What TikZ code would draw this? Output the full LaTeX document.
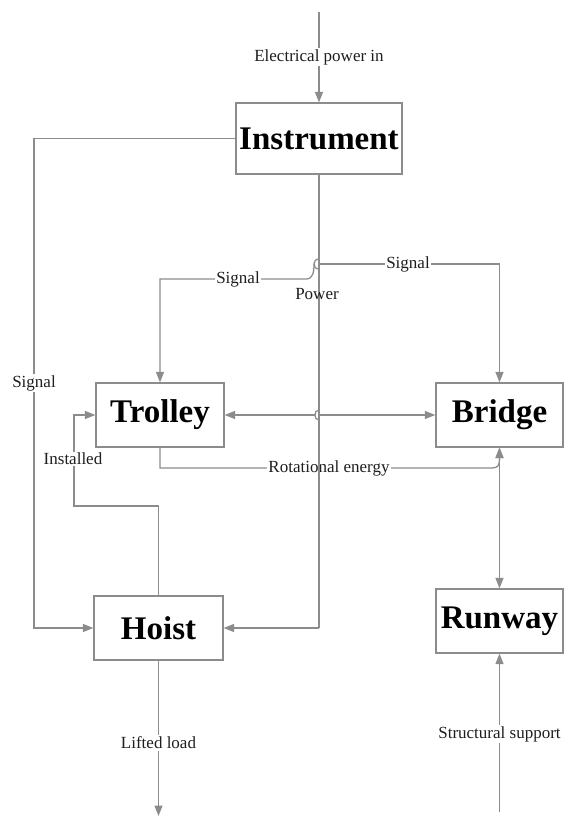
\documentclass[tikz,border=0pt]{standalone}
\usepackage{fontspec}
\setmainfont{Liberation Serif}
\usetikzlibrary{arrows.meta}
\definecolor{linegray}{RGB}{140,140,140}
\definecolor{txtdark}{RGB}{30,30,30}
\begin{document}
\begin{tikzpicture}[x=1pt,y=-1pt,
  conn/.style={draw=linegray, line width=1.3pt},
  arr/.style={conn,-{Triangle[length=10.5pt,width=8pt]}},
  darr/.style={conn,{Triangle[length=10.5pt,width=8pt]}-{Triangle[length=10.5pt,width=8pt]}},
  box/.style={draw=linegray, line width=1.3pt, fill=white, inner sep=0pt,
    font=\fontsize{33}{38}\selectfont\bfseries, text=black},
  lbl/.style={font=\fontsize{17}{20}\selectfont, text=txtdark, inner sep=1.5pt, fill=white}]
\useasboundingbox (0,0) rectangle (564,823);
\fill[white] (0,0) rectangle (564,823);

% boxes
\node[box, minimum width=166pt, minimum height=71pt] (ins) at (319,138.5) {Instrument};
\node[box, minimum width=128pt, minimum height=64pt] (trolley) at (160,415) {Trolley};
\node[box, minimum width=127pt, minimum height=64pt] (bridge) at (499.5,415) {Bridge};
\node[box, minimum width=129pt, minimum height=64pt] (hoist) at (158.5,628) {Hoist};
\node[box, minimum width=127pt, minimum height=64pt] (runway) at (499.5,621) {Runway};

% free ends
\coordinate (epin) at (319,12);
\coordinate (ssin) at (499.5,812);
\coordinate (llout) at (158.5,816);

% electrical power in
\draw[arr] (epin) -- (ins.north);
\node[lbl] (lep) at (319,57) {Electrical power in};

% signal to hoist
\draw[arr] (ins.west) -- (34,138.5) -- (34,628) -- (hoist.west);
\node[lbl] (lsig1) at (34,383) {Signal};

% signal to trolley (with hop)
\draw[conn] (319,259) .. controls (315.5,259) and (314,261.5) .. (314,264)
  .. controls (314,266.5) and (315.5,269) .. (319,269);
\draw[arr] (314,264) .. controls (314,272) and (313,279) .. (306,279) -- (160,279) -- (trolley.north);
\node[lbl] (lsig2) at (238,279) {Signal};

% signal to bridge
\draw[arr] (319,264) -- (499.5,264) -- (bridge.north);
\node[lbl] (lsig3) at (408,264) {Signal};

% rotational energy
\draw[arr] (trolley.south) -- (160,468) -- (492,468) .. controls (498,468) and (499.5,465) .. (499.5,459) -- (bridge.south);
\node[lbl] (lrot) at (329,468) {Rotational energy};

% power
\draw[conn] (ins.south) -- (319,628);
\draw[arr] (319,628) -- (hoist.east);
\draw[conn] (319,410) .. controls (316,410) and (315,412.5) .. (315,415)
  .. controls (315,417.5) and (316,420) .. (319,420);
\draw[arr] (315,415) -- (trolley.east);
\draw[arr] (319,415) -- (bridge.west);
\node[font=\fontsize{17}{20}\selectfont, text=txtdark, inner sep=0pt] (lpow) at (317,294) {Power};

% installed
\draw[arr] (hoist.north) -- (158.5,506) -- (74,506) -- (74,415) -- (trolley.west);
\node[lbl] (linst) at (73,459) {Installed};

% bridge - runway
\draw[darr] (bridge.south) -- (runway.north);

% structural support
\draw[arr] (ssin) -- (runway.south);
\node[lbl] (lss) at (499.5,734) {Structural support};

% lifted load
\draw[arr] (hoist.south) -- (llout);
\node[lbl] (lll) at (158.5,743) {Lifted load};
\end{tikzpicture}
\end{document}
